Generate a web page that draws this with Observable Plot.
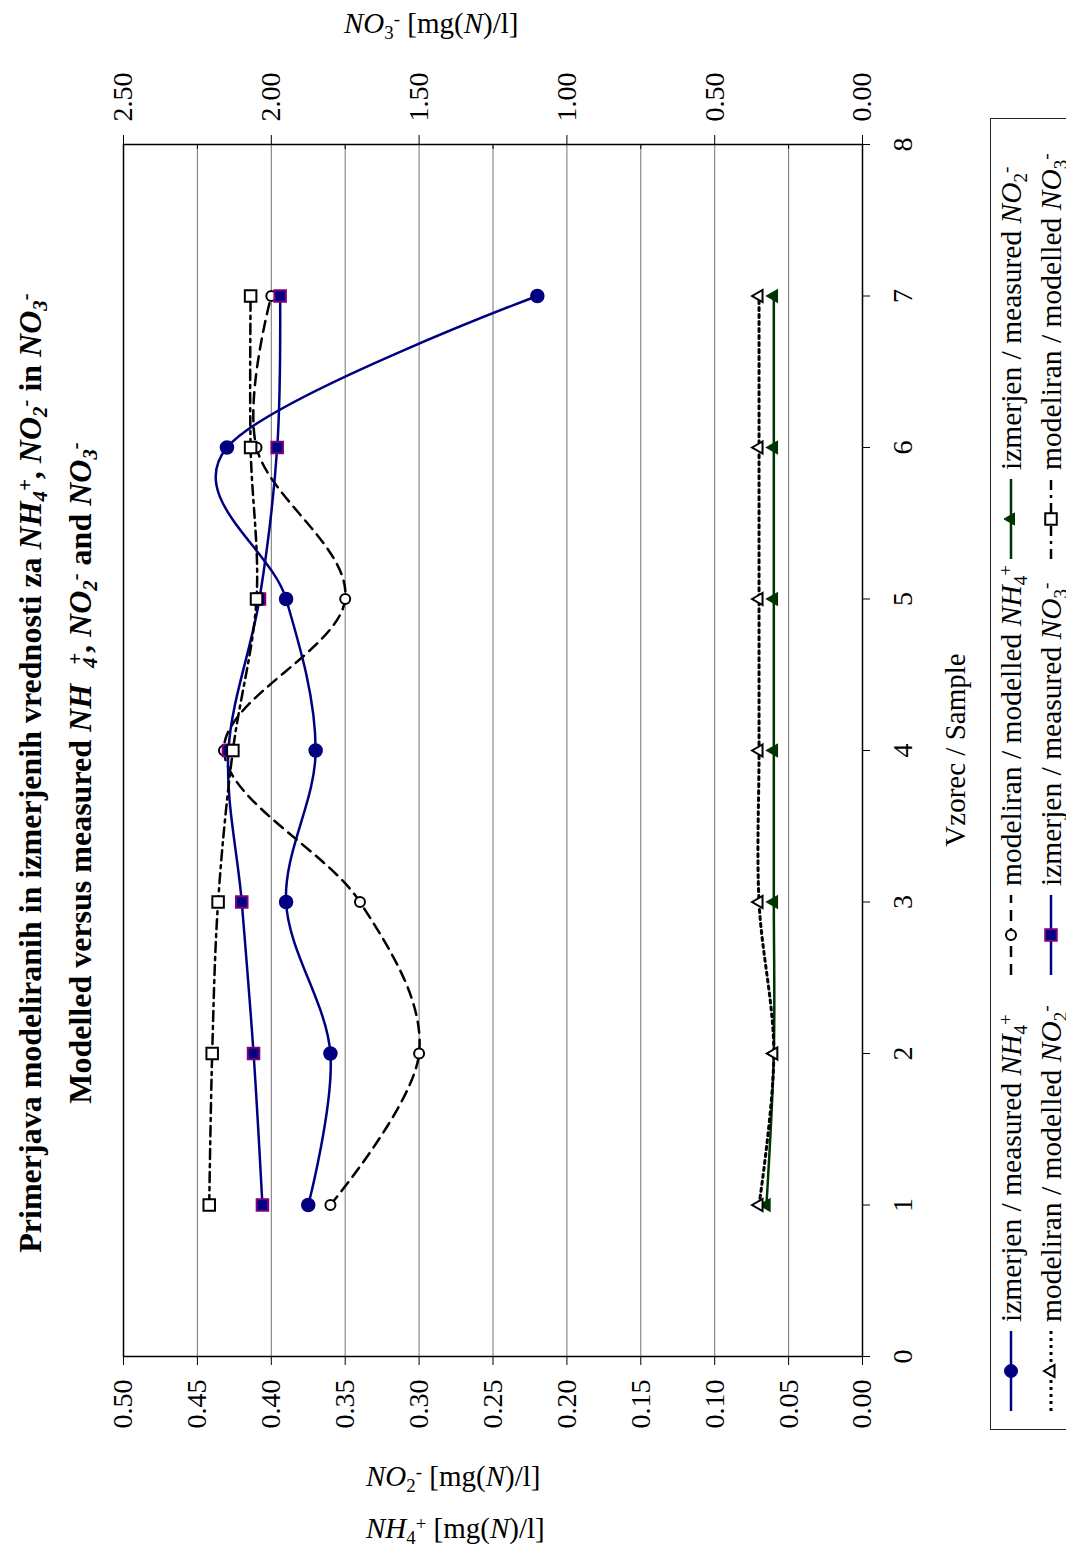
<!DOCTYPE html>
<html><head><meta charset="utf-8">
<script src="https://cdn.jsdelivr.net/npm/d3@7"></script>
<script src="https://cdn.jsdelivr.net/npm/@observablehq/plot@0.6"></script>
<style>
html,body{margin:0;padding:0;background:#fff;overflow:hidden;width:1066px;height:1546px;}
#page{position:relative;width:1066px;height:1546px;overflow:hidden;font-family:"Liberation Serif","Times New Roman",serif;color:#000;}
#rot{position:absolute;left:0;top:0;width:1546px;height:1066px;transform-origin:0 0;transform:translateY(1546px) rotate(-90deg);}
#rot > svg{position:absolute;left:0;top:0;}
#rot > svg text{font-family:"Liberation Serif","Times New Roman",serif !important;font-size:28px;fill:#000;}
.t{position:absolute;white-space:nowrap;line-height:1;}
.title{left:0;width:1546px;text-align:center;font-weight:bold;font-size:32px;}
.sb{font-size:0.65em;position:relative;top:0.3em;}
.sp{font-size:0.65em;position:relative;top:-0.45em;}
.ax{font-size:29px;}
#legend{position:absolute;left:116px;top:990px;width:1312px;height:110px;border:1px solid #222;box-sizing:border-box;}
.le{position:absolute;height:30px;font-size:29.5px;line-height:30px;white-space:nowrap;}
.le svg{position:absolute;left:0;top:0;}
.le .lab{position:absolute;left:89px;top:0;}
</style></head>
<body><div id="page"><div id="rot"></div></div>
<script>
// ---------- data ----------
const samples = [1, 2, 3, 4, 5, 6, 7];
const nh4Measured = [0.375, 0.36, 0.39, 0.37, 0.39, 0.43, 0.22];
const nh4Modelled = [0.36, 0.30, 0.34, 0.432, 0.35, 0.41, 0.40];
const no2Measured = [0.065, 0.06, 0.06, 0.06, 0.06, 0.06, 0.06];
const no2Modelled = [0.07, 0.06, 0.07, 0.07, 0.07, 0.07, 0.07];
const no3Measured = [2.03, 2.06, 2.10, 2.145, 2.04, 1.98, 1.97];
const no3Modelled = [2.21, 2.20, 2.18, 2.13, 2.05, 2.07, 2.07];
const leftTicks = [0, 0.05, 0.10, 0.15, 0.20, 0.25, 0.30, 0.35, 0.40, 0.45, 0.50];
const rightTicks = [0, 0.5, 1.0, 1.5, 2.0, 2.5];
const rightMinor = [0.25, 0.75, 1.25, 1.75, 2.25];
const sampleTicks = [0, 1, 2, 3, 4, 5, 6, 7, 8];

// ---------- build ----------
const k = 0.5 / 2.5; // NO3 axis (0–2.5) onto primary axis (0–0.5)
const rows = (vals, f = 1) => samples.map((s, i) => ({s, v: vals[i] * f}));

const navy = "#000080", green = "#003300", purple = "#800080";
const font = "Liberation Serif";

const series = [
  {data: rows(nh4Measured), line: {stroke: navy, strokeWidth: 2.5}, dot: {symbol: "circle", r: 6.5, fill: navy, stroke: navy}},
  {data: rows(nh4Modelled), line: {stroke: "#000", strokeWidth: 2.5, strokeDasharray: "11,7"}, dot: {symbol: "circle", r: 5, fill: "#fff", stroke: "#000", strokeWidth: 2}},
  {data: rows(no2Measured), line: {stroke: green, strokeWidth: 2.5}, dot: {symbol: "triangle", r: 4.5, fill: green, stroke: green}},
  {data: rows(no2Modelled), line: {stroke: "#000", strokeWidth: 3, strokeDasharray: "3,4"}, dot: {symbol: "triangle", r: 4.5, fill: "#fff", stroke: "#000", strokeWidth: 2}},
  {data: rows(no3Measured, k), line: {stroke: navy, strokeWidth: 2.5}, dot: {symbol: "square", r: 6.5, fill: navy, stroke: purple, strokeWidth: 2}},
  {data: rows(no3Modelled, k), line: {stroke: "#000", strokeWidth: 2.5, strokeDasharray: "10,5,3,5"}, dot: {symbol: "square", r: 6.5, fill: "#fff", stroke: "#000", strokeWidth: 2}}
];

const axisFont = {fontFamily: font, fontSize: 28};
const marks = [
  Plot.ruleY(leftTicks.slice(1, -1), {stroke: "#000", strokeOpacity: 0.55, strokeWidth: 1}),
  Plot.frame({stroke: "#000", strokeWidth: 1.5}),
  Plot.axisY({ticks: leftTicks, anchor: "left", tickSize: 8, tickPadding: 15, tickFormat: d3.format(".2f"), label: null, ...axisFont}),
  Plot.axisY({ticks: rightTicks.map(d => d * k), anchor: "right", tickSize: 9, tickPadding: 14, tickFormat: d => d3.format(".2f")(d / k), label: null, ...axisFont}),
  Plot.axisY({ticks: rightMinor.map(d => d * k), anchor: "right", tickSize: -5, tickFormat: () => "", label: null}),
  Plot.axisX({ticks: sampleTicks, anchor: "bottom", tickSize: 8, tickPadding: 22, tickFormat: d3.format("d"), label: null, ...axisFont})
];
for (const s of series) {
  marks.push(Plot.line(s.data, {x: "s", y: "v", curve: "cardinal", ...s.line}));
  marks.push(Plot.dot(s.data, {x: "s", y: "v", ...s.dot}));
}

const chart = Plot.plot({
  width: 1546, height: 1066,
  marginLeft: 189, marginRight: 145, marginTop: 123, marginBottom: 204,
  style: {fontFamily: "'Liberation Serif','Times New Roman',serif", fontSize: "28px", color: "#000", background: "transparent"},
  x: {domain: [0, 8], axis: null},
  y: {domain: [0, 0.5], axis: null},
  marks
});
const rot = document.getElementById("rot");
rot.appendChild(chart);

// ---------- texts (chart frame, rotated with it) ----------
const sub = t => `<span class="sb">${t}</span>`;
const sup = t => `<span class="sp">${t}</span>`;
const it = t => `<i>${t}</i>`;
function addText(parent, cls, html, style) {
  const d = document.createElement("div");
  d.className = "t " + cls; d.innerHTML = html; Object.assign(d.style, style); parent.appendChild(d); return d;
}
addText(rot, "title", `Primerjava modeliranih in izmerjenih vrednosti za ${it("NH")}${sub(it("4"))}${sup(it("+"))}, ${it("NO")}${sub(it("2"))}${sup(it("-"))} in ${it("NO")}${sub(it("3"))}${sup(it("-"))}`, {top: "14px"});
addText(rot, "title", `Modelled versus measured ${it("NH")}&nbsp;&nbsp;${sub(it("4"))}<span class="sp" style="margin-left:-0.35em">${it("+")}</span>, ${it("NO")}${sub(it("2"))}${sup(it("-"))} and ${it("NO")}${sub(it("3"))}${sup(it("-"))}`, {top: "64px"});
addText(rot, "ax", "Vzorec / Sample", {left: "0px", width: "1592px", textAlign: "center", top: "941px"});

// legend
const legend = document.createElement("div"); legend.id = "legend"; rot.appendChild(legend);
const swatch = s => {
  const l = s.line, d = s.dot;
  const dash = l.strokeDasharray ? `stroke-dasharray="${l.strokeDasharray}"` : "";
  const dsym = d3.symbol(d3["symbol" + d.symbol[0].toUpperCase() + d.symbol.slice(1)], Math.PI * d.r * d.r)();
  return `<svg width="80" height="30"><line x1="0" x2="80" y1="15" y2="15" stroke="${l.stroke}" stroke-width="${l.strokeWidth}" ${dash}/>` +
    `<path transform="translate(40,15)" d="${dsym}" fill="${d.fill}" stroke="${d.stroke}" stroke-width="${d.strokeWidth || 1}"/></svg>`;
};
const legendLabels = [
  `izmerjen / measured ${it("NH")}${sub("4")}${sup("+")}`,
  `modeliran / modelled ${it("NH")}${sub("4")}${sup("+")}`,
  `izmerjen / measured ${it("NO")}${sub("2")}${sup("-")}`,
  `modeliran / modelled ${it("NO")}${sub("2")}${sup("-")}`,
  `izmerjen / measured ${it("NO")}${sub("3")}${sup("-")}`,
  `modeliran / modelled ${it("NO")}${sub("3")}${sup("-")}`
];
const colX = [134, 570, 986], rowY = [1010, 1050];
series.forEach((s, i) => {
  const e = document.createElement("div"); e.className = "le";
  e.style.left = (colX[i % 3] - 116) + "px";
  e.style.top = (rowY[Math.floor(i / 3)] - 15 - 990) + "px";
  e.innerHTML = swatch(s) + `<span class="lab">${legendLabels[i]}</span>`;
  legend.appendChild(e);
});

// ---------- axis titles (upright on the page) ----------
const page = document.getElementById("page");
addText(page, "ax", `${it("NO")}${sub("3")}${sup("-")} [mg(${it("N")})/l]`, {left: "344px", top: "9px"});
addText(page, "ax", `${it("NO")}${sub("2")}${sup("-")} [mg(${it("N")})/l]`, {left: "366px", top: "1462px"});
addText(page, "ax", `${it("NH")}${sub("4")}${sup("+")} [mg(${it("N")})/l]`, {left: "366px", top: "1514px"});
</script></body></html>
